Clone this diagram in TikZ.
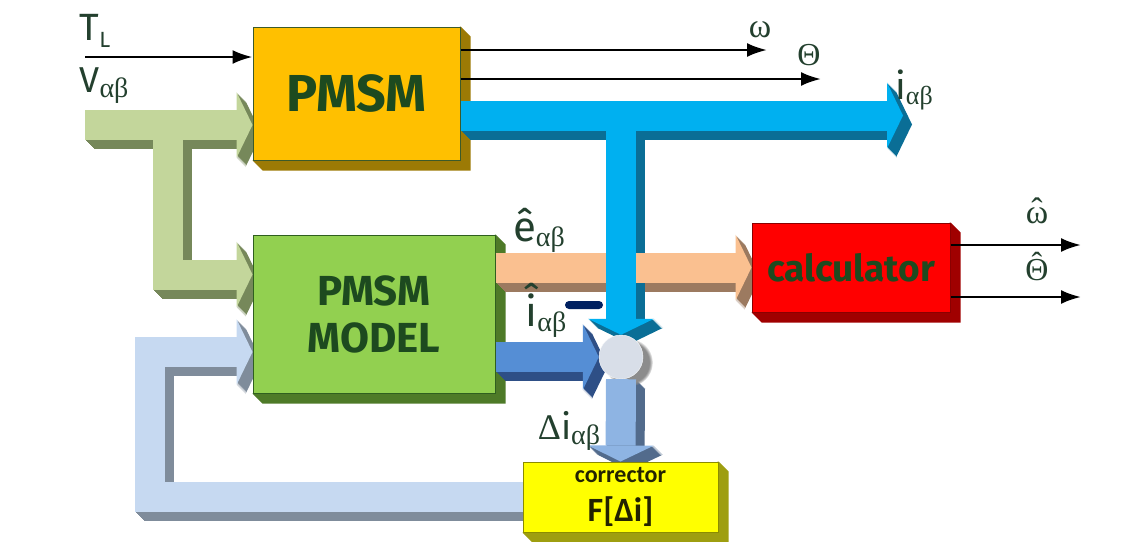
\documentclass[tikz,border=0pt]{standalone}
\usepackage{fontspec}
\setmainfont{Fira Sans}
\newfontfamily\greekfont{Liberation Serif}
\newfontfamily\calfont{Carlito}
\usetikzlibrary{arrows.meta,calc,backgrounds,shadows}

\definecolor{pmsmfront}{HTML}{FFC000}
\definecolor{pmsmside}{HTML}{9C7A05}
\definecolor{pmsmline}{HTML}{3C5A2A}
\definecolor{modelfront}{HTML}{92D050}
\definecolor{modelside}{HTML}{4E7A28}
\definecolor{modelline}{HTML}{2F5F1F}
\definecolor{calcfront}{HTML}{FF0000}
\definecolor{calcside}{HTML}{A00000}
\definecolor{calcline}{HTML}{8B0000}
\definecolor{corrfront}{HTML}{FFFF00}
\definecolor{corrside}{HTML}{9E9E10}
\definecolor{corrline}{HTML}{8B8B00}
\definecolor{vfront}{HTML}{C3D69B}
\definecolor{vside}{HTML}{76885A}
\definecolor{ifront}{HTML}{00B0F0}
\definecolor{iside}{HTML}{0A6E96}
\definecolor{efront}{HTML}{FAC090}
\definecolor{eside}{HTML}{9C7A60}
\definecolor{hfront}{HTML}{558ED5}
\definecolor{hside}{HTML}{2E4F86}
\definecolor{dfront}{HTML}{8EB4E3}
\definecolor{dside}{HTML}{526B8C}
\definecolor{ffront}{HTML}{C6D9F1}
\definecolor{fside}{HTML}{7F8C9B}
\definecolor{sumfill}{HTML}{D8DEE8}
\definecolor{minusc}{HTML}{002060}
\definecolor{boxtext}{HTML}{1D4A1F}
\definecolor{labeltext}{HTML}{23402E}

\newcommand{\hatit}[2][0.25em]{\ooalign{#2\cr\hidewidth\raisebox{#1}{ˆ}\hidewidth\cr}}
\newcommand{\ab}[1][28]{\raisebox{-5pt}{\greekfont\fontsize{#1}{#1}\selectfont αβ}}

\begin{document}
\begin{tikzpicture}[x=1pt, y=-1pt,
  block/.style={line width=1pt, inner sep=0pt, text=boxtext, align=center, font=\bfseries\fontsize{52}{56}\selectfont},
  blk/.style={line width=30pt, line join=miter, -{Triangle[length=16pt,width=66pt,line width=0pt]}},
  sig/.style={line width=2.5pt, -{Latex[length=20pt,width=14pt]}},
  lbl/.style={text=labeltext, inner sep=0pt}]
\useasboundingbox (0,0) rectangle (1138,541);

% blocks
\node[block, fill=pmsmfront, draw=pmsmline, minimum width=207pt, minimum height=133pt] (pmsm) at (356.5,93.5) {PMSM};
\node[block, fill=modelfront, draw=modelline, minimum width=242pt, minimum height=158pt, font=\bfseries\fontsize{42}{47}\selectfont] (model) at (374,314) {PMSM\\MODEL};
\node[block, fill=calcfront, draw=calcline, minimum width=198pt, minimum height=89pt, font=\bfseries\fontsize{37}{40}\selectfont] (calc) at (851,267.5) {calculator};
\node[block, fill=corrfront, draw=corrline, minimum width=195pt, minimum height=70pt, text=black!75!corrline, font=\calfont\bfseries\fontsize{34}{39}\selectfont] (corr) at (620.5,497) {{\fontsize{24}{24}\selectfont corrector}\\F[Δi]};
\node[circle, fill=sumfill, draw=white!80!sumfill, inner sep=0pt, minimum size=44pt,
  circular drop shadow={shadow xshift=7pt, shadow yshift=-5pt, fill=black!45, opacity=1}] (sum) at (621,357) {};
\node[fill=minusc, rounded corners=4pt, minimum width=38pt, minimum height=8pt, inner sep=0pt] (minus) at (584,305) {};

\coordinate (vin) at (85,125);
\coordinate (vfork) at (167.5,125);
\coordinate (iout) at (903,115.5);
\coordinate (fbk) at (149.5,352);

% side faces and shadows
\begin{pgfonlayer}{background}
\foreach \b/\c in {pmsm/pmsmside, model/modelside, calc/calcside, corr/corrside}
  \fill[\c] (\b.north east) -- ++(10,10) |- ($(\b.south west)+(10,10)$) -- (\b.south west) -- cycle;
\foreach \d in {1,...,9}{
  \begin{scope}[transform canvas={shift={(\d,\d)}}]
  \draw[blk, vside] (vin) -- (vin -| pmsm.west);
  \draw[blk, vside] (vfork) |- ($(model.north west)+(0,40)$);
  \draw[blk, fside] (corr.west) -| (fbk) -- (fbk -| model.west);
  \draw[blk, eside] (model.east |- calc.west) -- (calc.west);
  \draw[blk, iside] (iout -| pmsm.east) -- (iout);
  \draw[blk, iside] (sum.north |- iout) -- (sum.north);
  \draw[blk, hside] (model.east |- sum.west) -- (sum.west);
  \draw[blk, dside] (sum.south) -- (corr.north);
  \end{scope}
}
\end{pgfonlayer}

% block arrows
\draw[blk, vfront] (vin) -- (vin -| pmsm.west);
\draw[blk, vfront] (vfork) |- ($(model.north west)+(0,40)$);
\draw[blk, ffront] (corr.west) -| (fbk) -- (fbk -| model.west);
\draw[blk, efront] (model.east |- calc.west) -- (calc.west);
\draw[blk, ifront] (iout -| pmsm.east) -- (iout);
\draw[blk, ifront] (sum.north |- iout) -- (sum.north);
\draw[blk, hfront] (model.east |- sum.west) -- (sum.west);
\draw[blk, dfront] (sum.south) -- (corr.north);

% signals
\coordinate (tlin) at (85,57);
\coordinate (wout) at (767,50);
\coordinate (thout) at (821,79);
\coordinate (whout) at (1081,245);
\coordinate (thhout) at (1081,297);
\draw[sig] (tlin) -- (tlin -| pmsm.west);
\draw[sig] (wout -| pmsm.east) -- (wout);
\draw[sig] (thout -| pmsm.east) -- (thout);
\draw[sig] (whout -| calc.east) -- (whout);
\draw[sig] (thhout -| calc.east) -- (thhout);

% labels
\node[lbl, font=\fontsize{38}{38}\selectfont] (tl) at (95,31) {T\raisebox{-7pt}{\fontsize{22}{22}\selectfont L}};
\node[lbl, font=\fontsize{36}{36}\selectfont] (vab) at (104,86) {V\ab};
\node[lbl, font=\greekfont\fontsize{34}{34}\selectfont] (w) at (760,30) {ω};
\node[lbl, font=\greekfont\fontsize{32}{32}\selectfont] (th) at (809,55) {Θ};
\node[lbl, font=\fontsize{38}{38}\selectfont] (iab) at (914,90) {i\ab[26]};
\node[lbl, font=\fontsize{42}{42}\selectfont] (eab) at (539,230) {ê\ab};
\node[lbl, font=\fontsize{42}{42}\selectfont] (ihab) at (546,316) {\hatit{i}\ab};
\node[lbl, font=\fontsize{36}{36}\selectfont] (diab) at (569,431) {{\greekfont Δ}i\ab};
\node[lbl, font=\greekfont\fontsize{34}{34}\selectfont] (wh) at (1037,216) {\hatit[0.08em]{ω}};
\node[lbl, font=\greekfont\fontsize{32}{32}\selectfont] (thh) at (1037,270) {\hatit[0.2em]{Θ}};
\end{tikzpicture}
\end{document}
